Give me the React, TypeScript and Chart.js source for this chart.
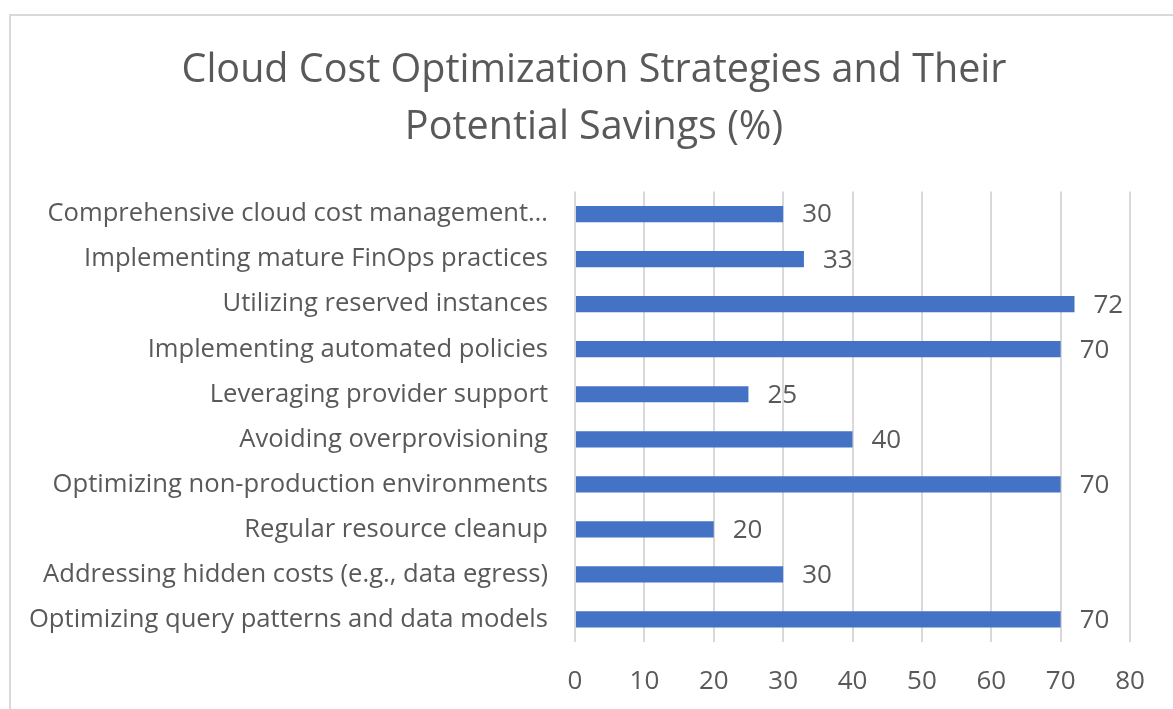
import React, { useEffect, useRef } from "react";
import { Chart, registerables } from "chart.js";

Chart.register(...registerables);

const titleLines = ["Cloud Cost Optimization Strategies and Their", "Potential Savings (%)"];
const categories = [
  "Comprehensive cloud cost management…",
  "Implementing mature FinOps practices",
  "Utilizing reserved instances",
  "Implementing automated policies",
  "Leveraging provider support",
  "Avoiding overprovisioning",
  "Optimizing non-production environments",
  "Regular resource cleanup",
  "Addressing hidden costs (e.g., data egress)",
  "Optimizing query patterns and data models",
];
const savings = [30, 33, 72, 70, 25, 40, 70, 20, 30, 70];
const xMin = 0;
const xMax = 80;
const xStep = 10;

const FONT = "'Open Sans', 'Noto Sans', sans-serif";
const TEXT = "#595959";

const borderPlugin = {
  id: "outerBorder",
  beforeDraw(chart: any) {
    const ctx = chart.ctx;
    ctx.save();
    ctx.fillStyle = "#ffffff";
    ctx.fillRect(0, 0, chart.width, chart.height);
    ctx.strokeStyle = "#d9d9d9";
    ctx.lineWidth = 2;
    ctx.strokeRect(10, 15, chart.width + 20, chart.height + 20);
    ctx.restore();
  },
};

const labelPlugin = {
  id: "valueLabels",
  afterDatasetsDraw(chart: any) {
    const ctx = chart.ctx;
    const meta = chart.getDatasetMeta(0);
    const data = chart.data.datasets[0].data;
    ctx.save();
    ctx.fillStyle = TEXT;
    ctx.font = `26px ${FONT}`;
    ctx.textAlign = "left";
    ctx.textBaseline = "middle";
    meta.data.forEach((bar: any, i: number) => {
      ctx.fillText(String(data[i]), bar.x + 19, bar.y + 1);
    });
    ctx.restore();
  },
};

export default function App() {
  const ref = useRef<HTMLCanvasElement | null>(null);
  useEffect(() => {
    if (!ref.current) return;
    const chart = new Chart(ref.current, {
      type: "bar",
      data: {
        labels: categories,
        datasets: [
          {
            data: savings,
            backgroundColor: "#4472C4",
            barPercentage: 0.36,
            categoryPercentage: 1,
          },
        ],
      },
      options: {
        indexAxis: "y",
        animation: false,
        responsive: false,
        maintainAspectRatio: false,
        layout: { padding: { left: 15, right: 0, top: 0, bottom: 0 } },
        plugins: {
          legend: { display: false },
          tooltip: { enabled: false },
          title: {
            display: true,
            text: titleLines,
            color: TEXT,
            font: { family: FONT, size: 39.5, weight: "normal", lineHeight: 1.45 },
            padding: { top: 42, bottom: 35 },
          },
        },
        scales: {
          x: {
            min: xMin,
            max: xMax,
            ticks: {
              stepSize: xStep,
              color: TEXT,
              font: { family: FONT, size: 26 },
              padding: 24,
            },
            grid: { color: "#d9d9d9", lineWidth: 2, drawTicks: false },
            border: { display: false },
            afterFit(scale: any) {
              scale.height = 67;
            },
          },
          y: {
            ticks: {
              color: TEXT,
              font: { family: FONT, size: 25.6 },
              padding: 27,
              autoSkip: false,
            },
            grid: { display: false, drawTicks: false },
            border: { display: false },
            afterFit(scale: any) {
              scale.width = 560;
            },
          },
          yRight: {
            type: "category",
            position: "right",
            display: true,
            ticks: { display: false },
            grid: { display: false, drawTicks: false },
            border: { display: false },
            afterFit(scale: any) {
              scale.width = 43;
            },
          },
        },
      },
      plugins: [borderPlugin, labelPlugin],
    });
    return () => chart.destroy();
  }, []);
  return (
    <div style={{ position: "fixed", left: 0, top: 0, width: 1173, height: 709 }}>
      <canvas ref={ref} width={1173} height={709} style={{ width: 1173, height: 709 }} />
    </div>
  );
}
